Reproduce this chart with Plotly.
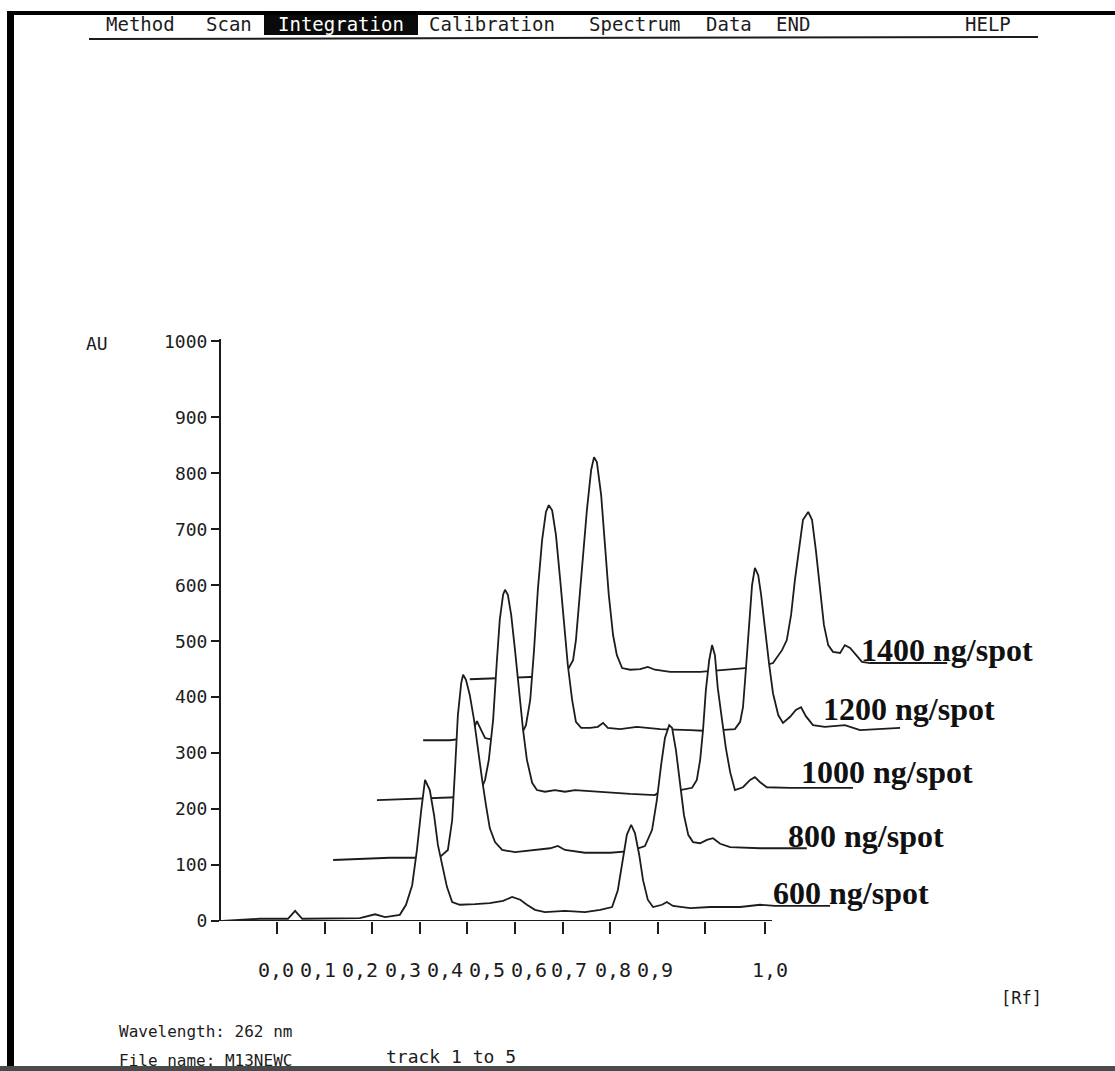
import plotly.graph_objects as go

# ---------------- data ----------------
track_names = ["600 ng/spot", "800 ng/spot", "1000 ng/spot", "1200 ng/spot", "1400 ng/spot"]

rf_600 = [-0.115, -0.036, 0.023, 0.038, 0.053, 0.111, 0.174, 0.206, 0.227, 0.258, 0.271, 0.284, 0.294,
          0.303, 0.311, 0.321, 0.330, 0.338, 0.347, 0.357, 0.368, 0.384, 0.416, 0.447, 0.475, 0.494,
          0.511, 0.525, 0.542, 0.563, 0.605, 0.647, 0.679, 0.704, 0.716, 0.727, 0.735, 0.744, 0.752,
          0.761, 0.769, 0.779, 0.790, 0.809, 0.819, 0.832, 0.868, 0.910, 0.973, 1.015, 1.046, 1.162]
au_600 = [0, 4, 4, 18, 4, 4, 5, 12, 7, 11, 29, 64, 127, 198, 252, 234, 189, 136, 100, 61, 34, 29, 30,
          32, 36, 43, 38, 29, 20, 16, 18, 16, 20, 25, 55, 109, 154, 172, 157, 118, 73, 38, 25, 29, 34,
          27, 23, 25, 25, 29, 27, 27]

rf_800 = [0.118, 0.174, 0.237, 0.286, 0.311, 0.342, 0.359, 0.368, 0.374, 0.380, 0.387, 0.391, 0.397,
          0.405, 0.414, 0.422, 0.431, 0.439, 0.447, 0.458, 0.473, 0.500, 0.542, 0.574, 0.590, 0.605,
          0.647, 0.700, 0.742, 0.773, 0.788, 0.798, 0.807, 0.815, 0.824, 0.830, 0.838, 0.847, 0.855,
          0.864, 0.874, 0.889, 0.903, 0.916, 0.931, 0.952, 1.015, 1.113]
au_800 = [109, 111, 113, 113, 113, 114, 127, 180, 270, 368, 425, 440, 431, 404, 359, 306, 252, 207,
          166, 141, 127, 123, 127, 130, 134, 127, 122, 122, 125, 134, 163, 216, 279, 327, 350, 345,
          306, 243, 189, 154, 141, 139, 145, 148, 138, 132, 130, 130]

rf_1000 = [0.210, 0.279, 0.359, 0.405, 0.426, 0.437, 0.445, 0.454, 0.462, 0.468, 0.475, 0.479, 0.485,
           0.492, 0.500, 0.508, 0.517, 0.525, 0.536, 0.546, 0.563, 0.584, 0.605, 0.626, 0.658, 0.700,
           0.742, 0.794, 0.805, 0.847, 0.872, 0.882, 0.889, 0.895, 0.901, 0.908, 0.914, 0.920, 0.926,
           0.935, 0.943, 0.952, 0.962, 0.979, 0.994, 1.004, 1.015, 1.029, 1.078, 1.210]
au_1000 = [216, 218, 220, 222, 229, 252, 288, 359, 466, 538, 583, 592, 583, 547, 484, 413, 341, 288,
           247, 234, 231, 234, 231, 234, 232, 229, 227, 225, 232, 234, 238, 252, 288, 341, 413, 466,
           493, 475, 416, 359, 309, 266, 234, 239, 252, 257, 248, 239, 238, 238]

rf_1200 = [0.307, 0.363, 0.405, 0.414, 0.420, 0.429, 0.437, 0.458, 0.489, 0.511, 0.523, 0.532, 0.540,
           0.548, 0.557, 0.565, 0.571, 0.578, 0.586, 0.595, 0.603, 0.611, 0.620, 0.628, 0.639, 0.658,
           0.674, 0.685, 0.695, 0.721, 0.756, 0.805, 0.868, 0.895, 0.931, 0.962, 0.973, 0.979, 0.985,
           0.992, 0.998, 1.004, 1.011, 1.017, 1.025, 1.034, 1.042, 1.053, 1.063, 1.078, 1.090, 1.101,
           1.111, 1.126, 1.151, 1.193, 1.225, 1.309]
au_1200 = [323, 323, 327, 345, 357, 341, 327, 323, 323, 329, 350, 395, 484, 592, 681, 731, 743, 734,
           690, 609, 529, 457, 395, 356, 345, 345, 347, 354, 345, 343, 347, 343, 341, 340, 341, 343,
           356, 382, 449, 538, 600, 631, 618, 583, 520, 458, 407, 368, 354, 365, 377, 382, 366, 350,
           347, 350, 341, 345]

rf_1400 = [0.405, 0.468, 0.532, 0.584, 0.605, 0.613, 0.622, 0.628, 0.634, 0.643, 0.651, 0.660, 0.666,
           0.672, 0.681, 0.689, 0.697, 0.706, 0.714, 0.725, 0.742, 0.763, 0.779, 0.794, 0.826, 0.889,
           0.952, 1.015, 1.042, 1.053, 1.061, 1.071, 1.080, 1.088, 1.097, 1.105, 1.116, 1.124, 1.132,
           1.141, 1.149, 1.158, 1.168, 1.183, 1.193, 1.204, 1.216, 1.229, 1.246, 1.408]
au_1400 = [432, 434, 436, 436, 443, 452, 466, 502, 565, 645, 734, 806, 829, 820, 761, 672, 583, 511,
           475, 452, 449, 450, 454, 449, 445, 445, 449, 454, 461, 475, 484, 502, 547, 609, 672, 717,
           731, 717, 663, 591, 529, 493, 481, 479, 493, 488, 475, 463, 461, 461]

# axis ticks / tick labels as printed
y_tick_pos = [0, 100, 200, 300, 400, 500, 600, 700, 800, 900, 1036]
y_tick_text = ["0", "100", "200", "300", "400", "500", "600", "700", "800", "900", "1000"]
rf_tick_pos = [0.0, 0.1, 0.2, 0.3, 0.4, 0.5, 0.6, 0.7, 0.8, 0.9, 1.025]
rf_label_text = ["0,0", "0,1", "0,2", "0,3", "0,4", "0,5", "0,6", "0,7", "0,8", "0,9", "1,0"]
rf_label_pos = [-0.002, 0.086, 0.174, 0.265, 0.353, 0.441, 0.529, 0.613, 0.706, 0.794, 1.036]

menu_items = ["Method", "Scan", "Integration", "Calibration", "Spectrum", "Data", "END", "HELP"]

series = [(track_names[0], rf_600, au_600), (track_names[1], rf_800, au_800),
          (track_names[2], rf_1000, au_1000), (track_names[3], rf_1200, au_1200),
          (track_names[4], rf_1400, au_1400)]
for _n, _x, _y in series:
    assert len(_x) == len(_y), _n

# ---------------- layout geometry ----------------
W, H = 1115, 1071
L, R, T, B = 221, 55, 339, 150
RF0_PX, PX_PER_RF = 277, 476.0
x_range = [(L - RF0_PX) / PX_PER_RF, (W - R - RF0_PX) / PX_PER_RF]
y_range = [0, 1040]


def xp(px):
    return (px - L) / (W - L - R)


def yp(py):
    return (H - B - py) / (H - T - B)


MONO = "DejaVu Sans Mono, Liberation Mono, monospace"
INK = "#1c1c1c"

fig = go.Figure()
# back (1400) to front (600); white fill gives the hidden-line removal of the printout
for name, xs, ys in reversed(series):
    fig.add_trace(go.Scatter(
        x=xs, y=ys, mode="lines", name=name,
        line=dict(color=INK, width=1.8, shape="linear"),
        fill="tozeroy", fillcolor="white", hoverinfo="skip", showlegend=False))

annotations = []
# track labels (right side)
label_px = {"1400 ng/spot": (859, 650), "1200 ng/spot": (821, 709), "1000 ng/spot": (799, 772),
            "800 ng/spot": (786, 836), "600 ng/spot": (771, 893)}
for name in track_names:
    lx, ly = label_px[name]
    annotations.append(dict(x=xp(lx), y=yp(ly), xref="paper", yref="paper", text="<b>%s</b>" % name,
                            showarrow=False, xanchor="left", yanchor="middle",
                            font=dict(family="Liberation Serif, Times New Roman, serif", size=32,
                                      color="#111111")))

# x tick labels (printed at their own spacing)
for t, pos in zip(rf_label_text, rf_label_pos):
    annotations.append(dict(x=pos, y=yp(970), xref="x", yref="paper", text=t, showarrow=False,
                            xanchor="center", yanchor="middle",
                            font=dict(family=MONO, size=20, color=INK)))

# axis unit labels
annotations.append(dict(x=xp(97), y=yp(343), xref="paper", yref="paper", text="AU", showarrow=False,
                        xanchor="center", yanchor="middle", font=dict(family=MONO, size=18, color=INK)))
annotations.append(dict(x=xp(1021), y=yp(998), xref="paper", yref="paper", text="[Rf]", showarrow=False,
                        xanchor="center", yanchor="middle", font=dict(family=MONO, size=17, color=INK)))

# footer texts
annotations.append(dict(x=xp(117), y=yp(1031), xref="paper", yref="paper", text="Wavelength: 262 nm",
                        showarrow=False, xanchor="left", yanchor="middle",
                        font=dict(family=MONO, size=16, color=INK)))
annotations.append(dict(x=xp(117), y=yp(1060), xref="paper", yref="paper", text="File name: M13NEWC",
                        showarrow=False, xanchor="left", yanchor="middle",
                        font=dict(family=MONO, size=16, color=INK)))
annotations.append(dict(x=xp(384), y=yp(1056), xref="paper", yref="paper", text="track 1 to 5",
                        showarrow=False, xanchor="left", yanchor="middle",
                        font=dict(family=MONO, size=18, color=INK)))

# menu bar
menu_px = {"Method": 140, "Scan": 229, "Integration": 341, "Calibration": 492, "Spectrum": 635,
           "Data": 729, "END": 793, "HELP": 988}
for item in menu_items:
    annotations.append(dict(x=xp(menu_px[item]), y=yp(24), xref="paper", yref="paper", text=item,
                            showarrow=False, xanchor="center", yanchor="middle",
                            font=dict(family=MONO, size=19,
                                      color="white" if item == "Integration" else INK)))

shapes = [
    # x axis line (printed, stops after Rf 1.0)
    dict(type="line", xref="x", yref="y", x0=x_range[0], x1=1.04, y0=0, y1=0,
         line=dict(color=INK, width=2), layer="above"),
    # menu highlight and underline
    dict(type="rect", xref="paper", yref="paper", x0=xp(264), x1=xp(418), y0=yp(35), y1=yp(14),
         fillcolor="#0a0a0a", line=dict(width=0), layer="below"),
    dict(type="line", xref="paper", yref="paper", x0=xp(89), x1=xp(1038), y0=yp(39), y1=yp(37),
         line=dict(color=INK, width=2)),
    # scan frame
    dict(type="rect", xref="paper", yref="paper", x0=xp(7), x1=xp(14), y0=yp(1071), y1=yp(11),
         fillcolor="black", line=dict(width=0)),
    dict(type="rect", xref="paper", yref="paper", x0=xp(7), x1=xp(1115), y0=yp(15), y1=yp(11),
         fillcolor="black", line=dict(width=0)),
    dict(type="rect", xref="paper", yref="paper", x0=xp(0), x1=xp(1115), y0=yp(1071), y1=yp(1066),
         fillcolor="#4a4a4a", line=dict(width=0)),
]

fig.update_layout(
    width=W, height=H, autosize=False,
    margin=dict(l=L, r=R, t=T, b=B, pad=0),
    paper_bgcolor="white", plot_bgcolor="white",
    showlegend=False,
    annotations=annotations, shapes=shapes,
    xaxis=dict(range=x_range, showgrid=False, zeroline=False, showline=False,
               tickmode="array", tickvals=rf_tick_pos, showticklabels=False,
               ticks="outside", ticklen=12, tickwidth=2, tickcolor=INK, automargin=False,
               fixedrange=True),
    yaxis=dict(range=y_range, showgrid=False, zeroline=False, showline=True, linecolor=INK,
               linewidth=2, tickmode="array", tickvals=y_tick_pos, ticktext=y_tick_text,
               ticks="outside", ticklen=8, tickwidth=2, tickcolor=INK,
               tickfont=dict(family=MONO, size=18, color=INK), automargin=False,
               fixedrange=True),
)

fig.write_html("out.html", config={"displayModeBar": False},
               post_script="document.body.style.margin='0';")
